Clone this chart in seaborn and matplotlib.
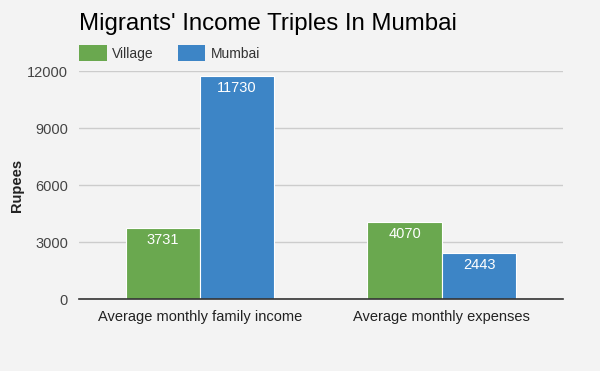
import pandas as pd
import matplotlib
matplotlib.use("Agg")
import matplotlib.pyplot as plt
import seaborn as sns
from matplotlib.patches import Patch

# chart data
categories = ['Average monthly family income', 'Average monthly expenses']
village = [3731, 4070]
mumbai = [11730, 2443]
series_names = ['Village', 'Mumbai']
colors = ['#6aa84f', '#3d85c6']
y_ticks = [0, 3000, 6000, 9000, 12000]

df = pd.DataFrame({
    'category': categories * 2,
    'where': [series_names[0]] * 2 + [series_names[1]] * 2,
    'value': village + mumbai,
})

sns.set_theme(style='white')
plt.rcParams['font.family'] = ['Liberation Sans', 'DejaVu Sans']
bg = '#f3f3f3'

fig = plt.figure(figsize=(6, 3.71), dpi=100, facecolor=bg)
ax = fig.add_axes([0.1317, 0.194, 0.8063, 0.6146], facecolor=bg)

sns.barplot(data=df, x='category', y='value', hue='where', order=categories,
            hue_order=series_names, palette=colors, width=0.615, dodge=True,
            edgecolor='white', linewidth=0.8, saturation=1, ax=ax, legend=False)

# value labels inside the top of each bar
for container in ax.containers:
    for bar in container:
        h = bar.get_height()
        ax.annotate(f'{int(h)}', (bar.get_x() + bar.get_width() / 2, h),
                    xytext=(0, -8.8), textcoords='offset points',
                    ha='center', va='center', color='white', fontsize=10.5)

ax.set_xlim(-0.5, 1.5)
ax.set_ylim(0, 12000)
ax.set_yticks(y_ticks)
ax.set_yticklabels([str(t) for t in y_ticks], color='#444444', fontsize=10.5)
ax.tick_params(axis='y', length=0, pad=8)
ax.tick_params(axis='x', length=0, pad=8, labelsize=10.5, labelcolor='#222222')
ax.yaxis.grid(True, color='#cccccc', linewidth=1)
ax.set_axisbelow(True)
for s in ['top', 'right', 'left']:
    ax.spines[s].set_visible(False)
ax.spines['bottom'].set_color('#333333')
ax.spines['bottom'].set_linewidth(1.2)
ax.spines['bottom'].set_zorder(5)

ax.set_xlabel('')
ax.set_ylabel('Rupees', fontsize=10.5, fontweight='bold', color='#222222')
ax.yaxis.set_label_coords(-0.113, 0.5)

fig.text(0.1317, 0.934, "Migrants' Income Triples In Mumbai", fontsize=17.3,
         color='black', ha='left', va='center')

handles = [Patch(facecolor=c, edgecolor='none') for c in colors]
fig.legend(handles, series_names, loc='center left', bbox_to_anchor=(0.1317, 0.857),
           ncol=2, frameon=False, fontsize=10, handlelength=2.0, handleheight=1.4,
           handletextpad=0.4, columnspacing=1.7, borderpad=0, borderaxespad=0,
           labelcolor='#333333')

fig.savefig('out.png', dpi=100, facecolor=bg)
